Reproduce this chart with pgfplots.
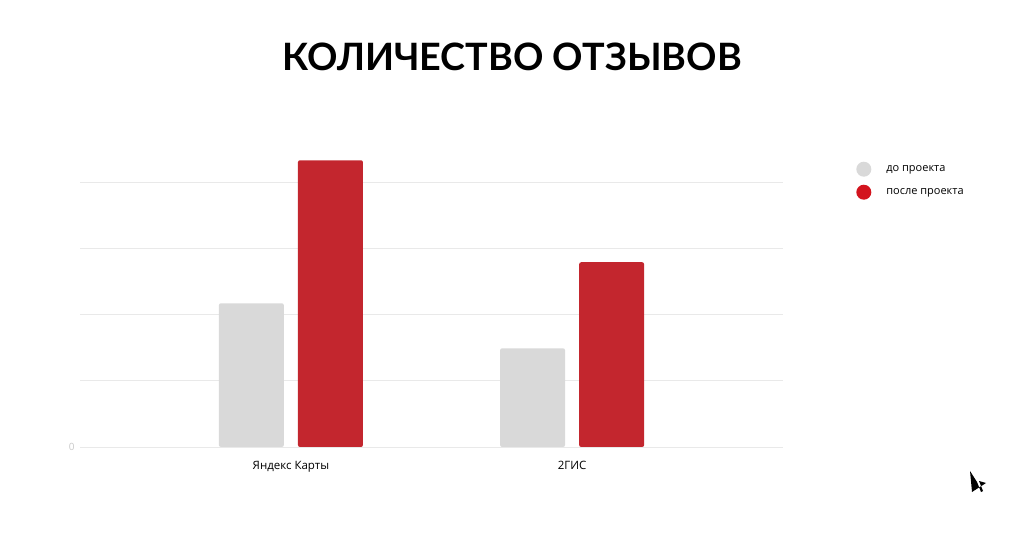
\documentclass[border=0pt]{standalone}
\usepackage{pgfplots}
\pgfplotsset{compat=1.18}
\usepackage{fontspec}
\setmainfont{Open Sans}
\newfontfamily\titlefont{Lato}
\definecolor{barGray}{HTML}{D9D9D9}
\definecolor{barRed}{HTML}{C3262E}
\definecolor{legRed}{HTML}{D3141E}
\definecolor{gridGray}{HTML}{E9E9E9}
\definecolor{tickGray}{HTML}{C8C8C8}
\begin{document}
\begin{tikzpicture}[x=1pt,y=1pt]
\path[use as bounding box] (0,0) rectangle (1024,535);
\node[font=\titlefont\bfseries\fontsize{37.7}{40}\selectfont] at (512,478) {КОЛИЧЕСТВО ОТЗЫВОВ};
\begin{axis}[
  at={(80pt,88pt)}, anchor=south west,
  scale only axis, width=703pt, height=298pt,
  xmin=-0.75, xmax=1.75, ymin=0, ymax=4.5,
  axis lines=left, axis line style={draw=none},
  ymajorgrids, grid style={gridGray, line width=0.8pt},
  ytick={0,1,2,3,4}, yticklabels={0,,,,},
  yticklabel style={font=\fontsize{10}{12}\selectfont, text=tickGray, xshift=-2pt},
  xtick={0,1}, xticklabels={Яндекс Карты,2ГИС},
  xticklabel style={font=\fontsize{11.5}{13}\selectfont, yshift=-11pt},
  major tick length=0pt,
  legend style={at={(1.104,0.958)}, anchor=north west, draw=none, fill=none,
    font=\fontsize{11}{13}\selectfont, row sep=8pt, inner sep=0pt,
    nodes={inner xsep=15pt}},
  legend cell align=left,
  legend image code/.code={\fill[#1] (7.5pt,0pt) circle (7.5pt);},
]
\addplot[ybar, bar width=0.231, bar shift=-0.1406, fill=barGray, draw=none, rounded corners=2pt, forget plot]
  coordinates {(0,2.17) (1,1.49)};
\addplot[ybar, bar width=0.231, bar shift=0.1406, fill=barRed, draw=none, rounded corners=2pt, forget plot]
  coordinates {(0,4.33) (1,2.79)};
\addlegendimage{fill=barGray, draw=none}
\addlegendentry{до проекта}
\addlegendimage{fill=legRed, draw=none}
\addlegendentry{после проекта}
\end{axis}
\fill[black] (970,64) -- (972,43) -- (986,52) -- (979,54) -- (983,44) -- (981,43) -- (977,53) -- cycle;
\end{tikzpicture}
\end{document}
